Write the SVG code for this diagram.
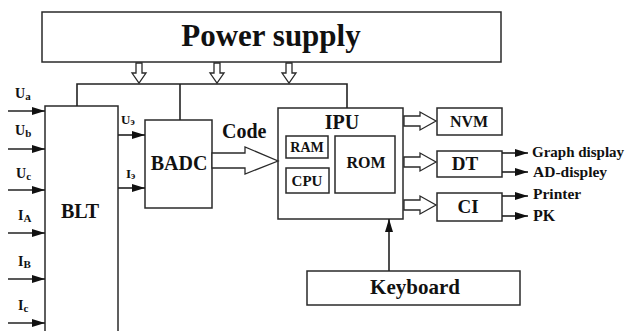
<svg xmlns="http://www.w3.org/2000/svg" width="628" height="331" viewBox="0 0 628 331">
<style>
.box{fill:#fff;stroke:#2a2a2a;stroke-width:1.5}
.t{font-family:"Liberation Serif","Times New Roman",serif;font-weight:bold;fill:#111}
.m{text-anchor:middle}
.hol{fill:#fff;stroke:#2a2a2a;stroke-width:1.3;stroke-linejoin:miter}
.ln{stroke:#222;stroke-width:1.6;fill:none}
.ar{stroke:#222;stroke-width:1.6;fill:none;marker-end:url(#ah)}
</style>
<defs>
<marker id="ah" markerUnits="userSpaceOnUse" viewBox="0 0 13 8" refX="13" refY="4" markerWidth="13" markerHeight="8" orient="auto">
<path d="M0,0 L13,4 L0,8 Z" fill="#111"/>
</marker>
</defs>
<rect width="628" height="331" fill="#fff"/>

<g id="power">
<rect class="box" x="42" y="12" width="459" height="50"/>
<text class="t m" x="271" y="46" font-size="31">Power supply</text>
</g>

<g id="blt">
<rect class="box" x="45" y="106" width="73" height="240"/>
<text class="t m" x="80" y="218" font-size="20">BLT</text>
</g>

<g id="badc">
<rect class="box" x="145" y="120" width="67" height="88"/>
<text class="t m" x="179" y="170" font-size="20">BADC</text>
</g>

<g id="ipu">
<rect class="box" x="278" y="108" width="125" height="111"/>
<text class="t m" x="342" y="129" font-size="20">IPU</text>
<g id="ram">
<rect class="box" x="286" y="136" width="42" height="22" stroke-width="1.2"/>
<text class="t m" x="307" y="152" font-size="14">RAM</text>
</g>
<g id="cpu">
<rect class="box" x="286" y="168" width="43" height="25" stroke-width="1.2"/>
<text class="t m" x="307" y="186" font-size="15">CPU</text>
</g>
<g id="rom">
<rect class="box" x="335" y="136" width="60" height="57" stroke-width="1.2"/>
<text class="t m" x="366" y="168" font-size="16">ROM</text>
</g>
</g>

<g id="nvm">
<rect class="box" x="437" y="108" width="65" height="27"/>
<text class="t m" x="469" y="127" font-size="16">NVM</text>
</g>

<g id="dt">
<rect class="box" x="437" y="151" width="65" height="26"/>
<text class="t m" x="465" y="170" font-size="19">DT</text>
</g>

<g id="ci">
<rect class="box" x="437" y="193" width="65" height="28"/>
<text class="t m" x="468" y="213" font-size="19">CI</text>
</g>

<g id="keyboard">
<rect class="box" x="307" y="271" width="213" height="34"/>
<text class="t m" x="415" y="294" font-size="21">Keyboard</text>
</g>

<g id="labels">
<text class="t" x="15" y="98" font-size="14">U<tspan font-size="11" dy="2">a</tspan></text>
<text class="t" x="15" y="135" font-size="14">U<tspan font-size="11" dy="2">b</tspan></text>
<text class="t" x="16" y="178" font-size="14">U<tspan font-size="11" dy="2">c</tspan></text>
<text class="t" x="18" y="220" font-size="14">I<tspan font-size="11" dy="2">A</tspan></text>
<text class="t" x="18" y="266" font-size="14">I<tspan font-size="11" dy="2">B</tspan></text>
<text class="t" x="18" y="310" font-size="14">I<tspan font-size="11" dy="2">c</tspan></text>
<text class="t" x="121" y="124" font-size="13">U<tspan font-size="10" dy="1">э</tspan></text>
<text class="t" x="126" y="178" font-size="13">I<tspan font-size="10" dy="1">э</tspan></text>
<text class="t" x="222" y="138" font-size="20">Code</text>
<text class="t" x="532" y="157" font-size="15">Graph display</text>
<text class="t" x="533" y="177" font-size="15.5">AD-displey</text>
<text class="t" x="533" y="199" font-size="15.5">Printer</text>
<text class="t" x="533" y="221" font-size="16">PK</text>
</g>

<g id="connectors">
<!-- power bus -->
<polyline class="ln" points="77,106 77,84 347,84 347,108" stroke-width="2"/>
<line class="ln" x1="180" y1="84" x2="180" y2="120" stroke-width="2"/>
<path class="hol" d="M136,63 L142,63 L142,73 L146,73 L139,83 L132,73 L136,73 Z"/>
<path class="hol" d="M214,63 L220,63 L220,73 L224,73 L217,83 L210,73 L214,73 Z"/>
<path class="hol" d="M286,63 L292,63 L292,73 L296,73 L289,83 L282,73 L286,73 Z"/>
<!-- inputs -->
<line class="ar" x1="8" y1="111" x2="45" y2="111"/>
<line class="ar" x1="8" y1="149" x2="45" y2="149"/>
<line class="ar" x1="8" y1="190" x2="45" y2="190"/>
<line class="ar" x1="8" y1="233" x2="45" y2="233"/>
<line class="ar" x1="8" y1="279" x2="45" y2="279"/>
<line class="ar" x1="8" y1="323" x2="45" y2="323"/>
<!-- BLT to BADC -->
<line class="ar" x1="118" y1="135" x2="145" y2="135"/>
<line class="ar" x1="118" y1="188" x2="145" y2="188"/>
<!-- Code -->
<path class="hol" d="M212,153 L245,153 L245,147 L278,161 L245,174 L245,168 L212,168 Z"/>
<!-- IPU outputs -->
<path class="hol" d="M404,116 L420,116 L420,112 L436,121 L420,130 L420,126 L404,126 Z"/>
<path class="hol" d="M404,157 L420,157 L420,153 L436,162 L420,171 L420,167 L404,167 Z"/>
<path class="hol" d="M404,200 L420,200 L420,196 L436,205 L420,214 L420,210 L404,210 Z"/>
<!-- DT / CI outputs -->
<line class="ar" x1="502" y1="153" x2="528" y2="153"/>
<line class="ar" x1="502" y1="172" x2="528" y2="172"/>
<line class="ar" x1="502" y1="196" x2="528" y2="196"/>
<line class="ar" x1="502" y1="216" x2="528" y2="216"/>
<!-- Keyboard to IPU -->
<line class="ar" x1="389" y1="271" x2="389" y2="219"/>
</g>
</svg>
